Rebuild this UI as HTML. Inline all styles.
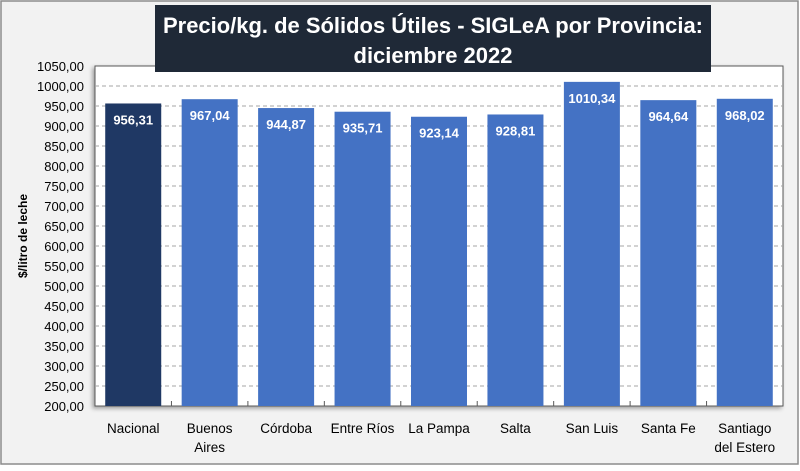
<!DOCTYPE html>
<html><head><meta charset="utf-8"><style>
body{margin:0;width:800px;height:466px;overflow:hidden;background:#fff;font-family:"Liberation Sans",sans-serif}
</style></head><body>
<svg width="800" height="466" xmlns="http://www.w3.org/2000/svg">
<rect x="1" y="1" width="797" height="463" fill="#f2f2f2" stroke="#8c8c8c" stroke-width="1.5"/>
<rect x="95" y="66" width="688" height="340" fill="#fff" stroke="#595959" stroke-width="1" style="filter:drop-shadow(-2px 2px 2px rgba(0,0,0,0.35))"/>
<g id="grid"></g><g id="bars"></g><g id="labels"></g>
<rect x="155" y="5" width="556" height="67" fill="#1f2937"/>
<text x="433" y="33" text-anchor="middle" fill="#fff" font-size="22" font-weight="bold" textLength="540" lengthAdjust="spacingAndGlyphs">Precio/kg. de Sólidos Útiles - SIGLeA por Provincia:</text>
<text x="433" y="63" text-anchor="middle" fill="#fff" font-size="22" font-weight="bold">diciembre 2022</text>
<text transform="translate(27,236) rotate(-90)" text-anchor="middle" font-size="12" font-weight="bold" fill="#000">$/litro de leche</text>
</svg>
<script>
const categories=[["Nacional"],["Buenos","Aires"],["Córdoba"],["Entre Ríos"],["La Pampa"],["Salta"],["San Luis"],["Santa Fe"],["Santiago","del Estero"]];
const values=[956.31,967.04,944.87,935.71,923.14,928.81,1010.34,964.64,968.02];
const valueLabels=["956,31","967,04","944,87","935,71","923,14","928,81","1010,34","964,64","968,02"];
const ticks=[200,250,300,350,400,450,500,550,600,650,700,750,800,850,900,950,1000,1050];
const NS="http://www.w3.org/2000/svg";
const X0=95,W=688,band=W/categories.length,bw=56;
const y=v=>86+(1000-v)*0.4;
const xc=i=>X0+band*(i+0.5);
function mk(t,a,p){const e=document.createElementNS(NS,t);for(const k in a)e.setAttribute(k,a[k]);p.appendChild(e);return e;}
const g=document.getElementById('grid'),b=document.getElementById('bars'),l=document.getElementById('labels');
ticks.forEach(t=>{
 if(t>200&&t<1050){const ln=mk('line',{x1:X0,x2:X0+W,y1:y(t),y2:y(t),stroke:'#a6a6a6','stroke-dasharray':'4,3'},g);
 
 }
 const tx=mk('text',{x:84,y:y(t)+5,'text-anchor':'end','font-size':'13',fill:'#000'},l);
 tx.textContent=t.toFixed(2).replace('.',',');
 
 
});
for(let i=1;i<categories.length;i++){const tk=mk('line',{x1:X0+band*i,x2:X0+band*i,y1:406,y2:401,stroke:'#595959'},g);
 
 }
values.forEach((v,i)=>{
 const r=mk('rect',{x:xc(i)-bw/2,y:y(v),width:bw,height:406-y(v),fill:i===0?'#1f3864':'#4472c4'},b);
 
 
 const t=mk('text',{x:xc(i),y:y(v)+21,'text-anchor':'middle','font-size':'13',fill:'#fff','font-weight':'bold'},l);
 t.textContent=valueLabels[i];
 
 
 categories[i].forEach((s,j)=>{const c=mk('text',{x:xc(i),y:433+j*19,'text-anchor':'middle','font-size':'13.5',fill:'#000'},l);
  c.textContent=s;
  
  });
});
</script>
</body></html>
